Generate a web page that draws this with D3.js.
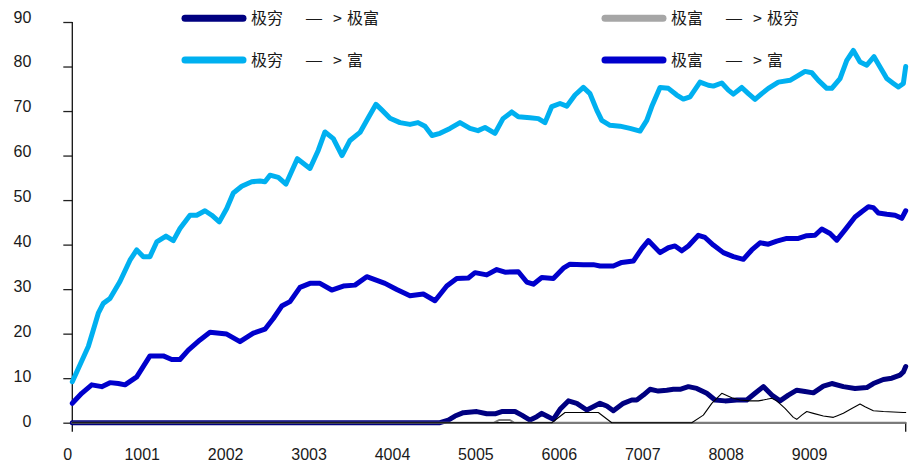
<!DOCTYPE html>
<html>
<head>
<meta charset="utf-8">
<script src="https://cdn.jsdelivr.net/npm/d3@7"></script>
<style>
  body { margin: 0; background: #fff; }
  svg { display: block; }
  .tick text, .lab { font-family: "Liberation Sans", Arial, sans-serif; font-size: 16px; fill: #1a1a1a; }
  .leg { font-family: "Noto Sans CJK SC", sans-serif; font-size: 16px; fill: #1a1a1a; }
</style>
</head>
<body>
<svg id="chart" width="914" height="466"></svg>
<script>
// x ticks and y ticks
var xTicks = [0, 1001, 2002, 3003, 4004, 5005, 6006, 7007, 8008, 9009];
var yTicks = [0, 10, 20, 30, 40, 50, 60, 70, 80, 90];

// 极穷 —> 极富
var poorRichX = [0, 4412, 4512, 4592, 4692, 4853, 4973, 5072, 5153, 5312, 5393, 5492, 5573, 5633, 5693, 5772, 5852, 5952, 6053, 6173, 6233, 6332, 6413, 6492, 6612, 6713, 6773, 6852, 6932, 7032, 7133, 7212, 7292, 7392, 7493, 7613, 7712, 7832, 7973, 8093, 8192, 8292, 8393, 8492, 8592, 8693, 8792, 8892, 9012, 9113, 9252, 9392, 9533, 9612, 9732, 9833, 9932, 9972, 10000];
var poorRichY = [0, 0, 0.6, 1.5, 2.25, 2.5, 2.0, 2.0, 2.5, 2.5, 1.7, 0.6, 1.35, 2.1, 1.5, 0.75, 3.0, 4.9, 4.35, 2.85, 3.4, 4.35, 3.75, 2.7, 4.35, 5.1, 5.1, 6.2, 7.5, 7.1, 7.3, 7.5, 7.5, 8.1, 7.7, 6.6, 5.1, 4.9, 5.1, 5.1, 6.6, 8.1, 6.2, 4.9, 6.2, 7.3, 7.0, 6.7, 8.2, 8.8, 8.1, 7.7, 7.9, 8.8, 9.7, 10.0, 10.7, 11.4, 12.6];

// 极富 —> 极穷
var richPoorX = [0, 5060, 5120, 5250, 5300, 10000];
var richPoorY = [0, 0, 0.6, 0.6, 0, 0];

// 极穷 —> 富
var poorUpX = [0, 192, 252, 312, 372, 452, 572, 692, 773, 852, 932, 1013, 1124, 1212, 1292, 1412, 1493, 1592, 1673, 1764, 1853, 1932, 2033, 2153, 2252, 2312, 2372, 2472, 2564, 2700, 2852, 2952, 3032, 3132, 3236, 3332, 3452, 3548, 3644, 3716, 3812, 3932, 4052, 4148, 4232, 4316, 4412, 4532, 4652, 4772, 4868, 4952, 5072, 5168, 5273, 5352, 5492, 5592, 5672, 5753, 5852, 5933, 6032, 6132, 6212, 6293, 6353, 6452, 6572, 6692, 6812, 6893, 6953, 7052, 7152, 7253, 7332, 7412, 7532, 7632, 7692, 7793, 7872, 7932, 8033, 8112, 8192, 8273, 8352, 8472, 8612, 8693, 8792, 8873, 8952, 9053, 9113, 9212, 9293, 9372, 9452, 9533, 9620, 9692, 9773, 9852, 9912, 9972, 10000];
var poorUpY = [9.2, 17.1, 20.8, 24.6, 26.8, 27.9, 31.7, 36.5, 38.8, 37.3, 37.3, 40.6, 41.9, 40.9, 43.6, 46.6, 46.6, 47.6, 46.6, 45.1, 48.1, 51.6, 53.1, 54.1, 54.3, 54.1, 55.6, 55.1, 53.6, 59.3, 57.1, 61.2, 65.3, 63.8, 60.0, 63.4, 65.2, 68.4, 71.5, 70.2, 68.4, 67.4, 67.0, 67.4, 66.6, 64.5, 65.0, 66.1, 67.4, 66.1, 65.6, 66.3, 65.0, 68.3, 69.8, 68.7, 68.5, 68.3, 67.4, 71.0, 71.7, 71.1, 73.6, 75.3, 73.9, 70.2, 67.9, 66.8, 66.6, 66.1, 65.5, 67.9, 71.0, 75.3, 75.1, 73.6, 72.7, 73.2, 76.5, 75.8, 75.6, 76.3, 74.7, 73.8, 75.3, 73.9, 72.6, 73.9, 75.1, 76.5, 76.9, 77.8, 78.9, 78.6, 76.9, 75.1, 75.1, 77.3, 81.4, 83.6, 81.0, 80.3, 82.2, 79.9, 77.3, 76.2, 75.4, 76.2, 80.0];

// 极富 —> 富
var richUpX = [0, 113, 233, 353, 452, 552, 632, 773, 932, 1092, 1193, 1292, 1392, 1532, 1652, 1853, 2012, 2172, 2312, 2412, 2513, 2612, 2732, 2852, 2972, 3113, 3252, 3392, 3533, 3752, 3893, 4052, 4212, 4352, 4493, 4613, 4752, 4832, 4973, 5093, 5192, 5352, 5453, 5532, 5633, 5772, 5892, 5972, 6132, 6252, 6332, 6492, 6593, 6732, 6833, 6912, 7052, 7152, 7232, 7313, 7392, 7512, 7592, 7692, 7812, 7932, 8052, 8153, 8252, 8352, 8453, 8573, 8712, 8813, 8912, 8993, 9092, 9173, 9272, 9392, 9473, 9552, 9612, 9672, 9773, 9872, 9953, 10000];
var richUpY = [4.35, 6.6, 8.5, 8.1, 9.0, 8.8, 8.5, 10.3, 15.0, 15.0, 14.2, 14.2, 16.3, 18.6, 20.3, 19.9, 18.2, 20.1, 21.0, 23.4, 26.2, 27.2, 30.4, 31.3, 31.3, 29.8, 30.7, 30.9, 32.8, 31.3, 29.9, 28.5, 28.9, 27.4, 30.7, 32.4, 32.5, 33.7, 33.2, 34.4, 33.8, 33.9, 31.6, 31.1, 32.6, 32.4, 34.7, 35.6, 35.5, 35.5, 35.2, 35.2, 36.0, 36.3, 39.1, 40.9, 38.2, 39.3, 39.7, 38.6, 39.7, 42.1, 41.6, 39.9, 38.2, 37.3, 36.7, 38.8, 40.4, 40.1, 40.8, 41.4, 41.4, 42.0, 42.1, 43.5, 42.5, 41.0, 43.3, 46.2, 47.4, 48.5, 48.3, 47.1, 46.8, 46.6, 45.9, 47.6];

// thin black line (no legend entry)
var otherX = [0, 5753, 5912, 6312, 6473, 7433, 7572, 7673, 7793, 7913, 8012, 8132, 8232, 8333, 8393, 8453, 8552, 8652, 8693, 8753, 8813, 8892, 9012, 9132, 9173, 9252, 9353, 9452, 9512, 9612, 9732, 9972, 10000];
var otherY = [0, 0, 2.3, 2.3, 0, 0, 1.7, 4.35, 6.6, 5.6, 5.1, 4.9, 4.9, 5.25, 5.5, 4.9, 3.2, 1.2, 0.76, 1.7, 2.5, 2.1, 1.5, 1.2, 1.5, 2.1, 3.2, 4.2, 3.6, 2.7, 2.5, 2.3, 2.3];

var series = [
  { from: "极穷", to: "极富", xs: poorRichX, ys: poorRichY, color: "#000080", width: 5, legend: [0, 0] },
  { from: "极富", to: "极穷", xs: richPoorX, ys: richPoorY, color: "#7a7a7a", width: 2, legendColor: "#a6a6a6", legend: [1, 0] },
  { from: "极穷", to: "富", xs: poorUpX, ys: poorUpY, color: "#00b0f0", width: 5, legend: [0, 1] },
  { from: "极富", to: "富", xs: richUpX, ys: richUpY, color: "#0000cc", width: 5, legend: [1, 1] },
  { from: null, to: null, xs: otherX, ys: otherY, color: "#000", width: 1.1, legend: null }
];

var svg = d3.select("#chart");
var x = d3.scaleLinear().domain([0, 10000]).range([72.3, 905.7]);
var y = d3.scaleLinear().domain([0, 90]).range([422.7, 22]);

// axes
var gy = svg.append("g").attr("transform", "translate(" + x(0) + ",0)")
  .call(d3.axisLeft(y).tickValues(yTicks).tickSize(9).tickSizeOuter(0).tickFormat(d3.format("d")));
gy.select(".domain").remove();
gy.selectAll(".tick line").attr("stroke", "#222").attr("stroke-width", 1.3);
gy.selectAll(".tick text").attr("x", -41).attr("dy", null).attr("font-size", null).attr("font-family", null)
  .attr("y", function (d) { return 3.8 - d / 90 * 3.8; });

var gx = svg.append("g").attr("transform", "translate(0," + y(0) + ")")
  .call(d3.axisBottom(x).tickValues(xTicks).tickSize(0).tickFormat(d3.format("d")));
gx.select(".domain").remove();
gx.selectAll(".tick text")
  .attr("dy", null).attr("y", 37.5).attr("font-size", null).attr("font-family", null)
  .attr("x", function (d) { return d === 0 ? -5 : -14; });

svg.append("line").attr("x1", x(0)).attr("x2", x(0)).attr("y1", y(90)).attr("y2", y(0) + 9)
  .attr("stroke", "#111").attr("stroke-width", 1.3);
svg.append("line").attr("x1", x(0)).attr("x2", x(10000)).attr("y1", y(0)).attr("y2", y(0))
  .attr("stroke", "#111").attr("stroke-width", 1.6);
svg.append("line").attr("x1", x(10000)).attr("x2", x(10000)).attr("y1", y(0)).attr("y2", y(0) + 9)
  .attr("stroke", "#111").attr("stroke-width", 1.3);

// series lines
var line = d3.line()
  .x(function (d) { return x(d[0]); })
  .y(function (d) { return y(d[1]); });

series.forEach(function (s) {
  var pts = s.xs.map(function (v, i) { return [v, s.ys[i]]; });
  svg.append("path")
    .attr("d", line(pts))
    .attr("fill", "none")
    .attr("stroke", s.color)
    .attr("stroke-width", s.width)
    .attr("stroke-linejoin", "round")
    .attr("stroke-linecap", "round");
});

// legend
var legX = [185, 605], legY = [18.3, 60], legLen = 58;
var leg = svg.selectAll(".legend")
  .data(series.filter(function (s) { return s.legend; }))
  .enter().append("g")
  .attr("class", "legend")
  .attr("transform", function (d) { return "translate(" + legX[d.legend[0]] + "," + legY[d.legend[1]] + ")"; });

leg.append("line")
  .attr("x1", 0).attr("x2", legLen)
  .attr("stroke", function (d) { return d.legendColor || d.color; })
  .attr("stroke-width", 7)
  .attr("stroke-linecap", "round");

var lt = leg.append("text").attr("class", "leg").attr("x", legLen + 8).attr("dy", "0.36em");
lt.append("tspan").text(function (d) { return d.from; });
lt.append("tspan").attr("dx", 22).attr("textLength", 18).attr("lengthAdjust", "spacingAndGlyphs").text("—");
lt.append("tspan").attr("dx", 10).text(">");
lt.append("tspan").attr("dx", 5).text(function (d) { return d.to; });
</script>
</body>
</html>
